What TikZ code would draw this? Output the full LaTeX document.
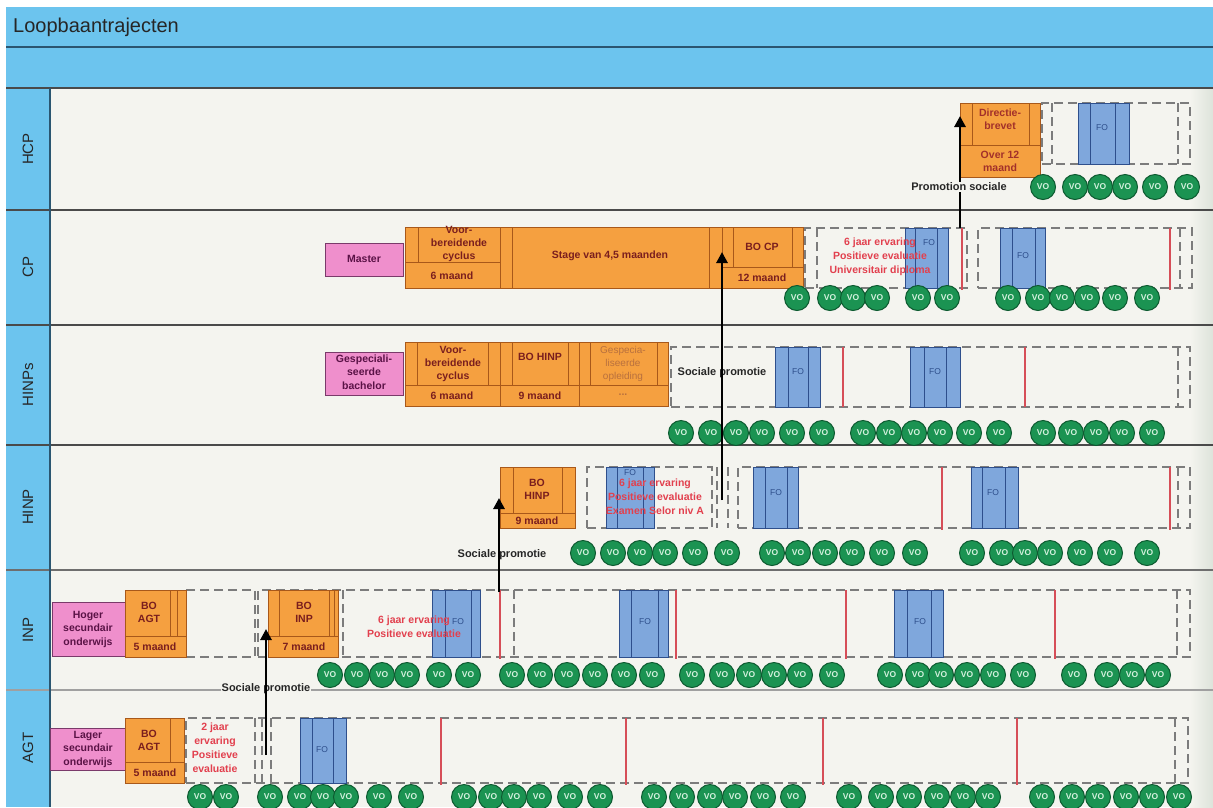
\documentclass[tikz,border=0pt]{standalone}
\usepackage{fontspec}
\setmainfont{Liberation Sans}
\usetikzlibrary{arrows.meta}
\definecolor{bandblue}{HTML}{6CC4EE}
\definecolor{bandline}{HTML}{2A5570}
\definecolor{lanebg}{HTML}{F4F4EF}
\definecolor{laneedge}{HTML}{DDE3DA}
\definecolor{laneline}{HTML}{4A4A4A}
\definecolor{lanelight}{HTML}{A0A0A0}
\definecolor{orfill}{HTML}{F5A040}
\definecolor{ordraw}{HTML}{A8581A}
\definecolor{ortext}{HTML}{7A1E1E}
\definecolor{orfade}{HTML}{B8703E}
\definecolor{dirtext}{HTML}{A2302A}
\definecolor{pkfill}{HTML}{EF8FCC}
\definecolor{pkdraw}{HTML}{7A3A6A}
\definecolor{pktext}{HTML}{5A1246}
\definecolor{fofill}{HTML}{7FA7DC}
\definecolor{fodraw}{HTML}{2E4F8C}
\definecolor{vofill}{HTML}{1B9352}
\definecolor{vodraw}{HTML}{0D5A30}
\definecolor{votext}{HTML}{D5F2DF}
\definecolor{redl}{HTML}{D64E58}
\definecolor{redt}{HTML}{E2404E}
\definecolor{dashc}{HTML}{7C7C7C}
\newcommand\mybox[6]{\node[#2, minimum width={#5-#3}, minimum height={#6-#4}] (#1) at ({(#3+#5)/2},{(#4+#6)/2}) {};}
\begin{document}
\begin{tikzpicture}[x=1pt,y=-1pt,
  obox/.style={draw=ordraw, fill=orfill, line width=0.8pt, inner sep=0pt, outer sep=0pt},
  pbox/.style={draw=pkdraw, fill=pkfill, line width=0.8pt, inner sep=0pt, outer sep=0pt},
  fobox/.style={draw=fodraw, fill=fofill, line width=0.8pt, inner sep=0pt, outer sep=0pt},
  dbox/.style={draw=dashc, dash pattern=on 9pt off 5pt, line width=1.1pt, inner sep=0pt, outer sep=0pt},
  odiv/.style={draw=ordraw, line width=0.8pt},
  fodiv/.style={draw=fodraw, line width=0.8pt},
  ddiv/.style={draw=dashc, dash pattern=on 9pt off 5pt, line width=1.1pt},
  redline/.style={draw=redl, line width=1.6pt},
  otext/.style={text=ortext, font=\bfseries\fontsize{10.5}{13}\selectfont, align=center, inner sep=0pt},
  ptext/.style={text=pktext, font=\bfseries\fontsize{10.5}{13.5}\selectfont, align=center, inner sep=0pt},
  rtext/.style={text=redt, font=\bfseries\fontsize{10.5}{14}\selectfont, align=center, inner sep=0pt},
  fotext/.style={text=fodraw, font=\fontsize{8.5}{9}\selectfont, inner sep=0pt},
  vo/.style={circle, draw=vodraw, fill=vofill, line width=1pt, minimum size=25pt, inner sep=0pt, text=votext, font=\bfseries\fontsize{8.5}{8.5}\selectfont},
  promolbl/.style={text=black!85, font=\bfseries\fontsize{11}{12}\selectfont, inner sep=1pt},
  promo/.style={line width=2.8pt, -{Triangle[length=11pt,width=11pt]}},
  lanelbl/.style={rotate=90, font=\fontsize{15}{15}\selectfont, text=black!85, inner sep=0pt},
]
\useasboundingbox (0,0) rectangle (1213,807);
% ---------- background ----------
\fill[white] (0,0) rectangle (1213,807);
\fill[lanebg] (50,88) rectangle (1213,807);
\shade[left color=lanebg, right color=laneedge] (1190,88) rectangle (1213,807);
\fill[bandblue] (6,7) rectangle (1213,88);
\fill[bandblue] (6,88) rectangle (50,807);
\node[anchor=west, font=\fontsize{20}{20}\selectfont, text=black!85, inner sep=0pt] (title) at (13,27) {Loopbaantrajecten};
\draw[bandline, line width=1.5pt] (6,47) -- (1213,47);
\draw[laneline, line width=1.5pt] (6,88) -- (1213,88);
\draw[laneline, line width=1.5pt] (6,210) -- (1213,210);
\draw[laneline, line width=1.5pt] (6,325) -- (1213,325);
\draw[laneline, line width=1.5pt] (6,445) -- (1213,445);
\draw[laneline!80, line width=1.5pt] (6,570) -- (1213,570);
\draw[lanelight, line width=2pt] (6,690) -- (1213,690);
\draw[bandline, line width=1.5pt] (50,88) -- (50,807);
\node[lanelbl] (lHCP) at (28,149) {HCP};
\node[lanelbl] (lCP) at (28,267) {CP};
\node[lanelbl] (lHINPs) at (28,385) {HINPs};
\node[lanelbl] (lHINP) at (28,507) {HINP};
\node[lanelbl] (lINP) at (28,630) {INP};
\node[lanelbl] (lAGT) at (28,748) {AGT};

% ---------- HCP ----------
\mybox{hcpd}{dbox}{1042}{103}{1190}{164}
\draw[ddiv] (1052,103) -- (1052,164);
\draw[ddiv] (1178,103) -- (1178,164);
\mybox{hcpfo}{fobox}{1078}{103}{1129}{164}
\draw[fodiv] (1090,103) -- (1090,164);
\draw[fodiv] (1115,103) -- (1115,164);
\node[fotext] (hcpfot) at (1102,128) {FO};
\mybox{dir}{obox}{960}{103}{1040}{177}
\draw[odiv] (960,145) -- (1040,145);
\draw[odiv] (972,103) -- (972,145);
\draw[odiv] (1029,103) -- (1029,145);
\node[otext, text=dirtext] (dirt1) at (1000,119) {Directie-\\brevet};
\node[otext, text=dirtext] (dirt2) at (1000,161) {Over 12\\maand};
\foreach \x [count=\i] in {1043,1075,1100,1125,1155,1187}
  \node[vo] (hcpvo\i) at (\x,187) {VO};

% ---------- CP ----------
\mybox{master}{pbox}{325}{243}{403}{276}
\node[ptext] (mastert) at (364,259) {Master};
\mybox{cpor}{obox}{405}{227}{803}{288}
\draw[odiv] (405,262) -- (500,262);
\draw[odiv] (418,227) -- (418,262);
\draw[odiv] (500,227) -- (500,288);
\draw[odiv] (512,227) -- (512,288);
\draw[odiv] (709,227) -- (709,288);
\draw[odiv] (722,227) -- (722,288);
\draw[odiv] (722,267) -- (803,267);
\draw[odiv] (733,227) -- (733,267);
\draw[odiv] (792,227) -- (792,267);
\node[otext] (cpt1) at (459,244) {Voor-\\bereidende\\cyclus};
\node[otext] (cpt2) at (452,276) {6 maand};
\node[otext] (cpt3) at (610,256) {Stage van 4,5 maanden};
\node[otext] (cpt4) at (762,247) {BO CP};
\node[otext] (cpt5) at (762,278) {12 maand};
\mybox{cpda}{dbox}{805}{228}{967}{288}
\draw[ddiv] (817,228) -- (817,288);
\mybox{cpfo1}{fobox}{905}{228}{948}{288}
\draw[fodiv] (915,228) -- (915,288);
\draw[fodiv] (937,228) -- (937,288);
\node[fotext] (cpfo1t) at (929,243) {FO};
\node[rtext] (cprt) at (880,257) {6 jaar ervaring\\Positieve evaluatie\\Universitair diploma};
\draw[redline] (962,228) -- (962,290);
\mybox{cpdb}{dbox}{978}{228}{1192}{288}
\draw[ddiv] (1180,228) -- (1180,288);
\mybox{cpfo2}{fobox}{1000}{228}{1045}{288}
\draw[fodiv] (1012,228) -- (1012,288);
\draw[fodiv] (1035,228) -- (1035,288);
\node[fotext] (cpfo2t) at (1023,256) {FO};
\draw[redline] (1170,228) -- (1170,290);
\foreach \x [count=\i] in {797,830,853,877,918,947,1008,1038,1062,1087,1115,1147}
  \node[vo] (cpvo\i) at (\x,298) {VO};

% ---------- HINPs ----------
\mybox{gbach}{pbox}{325}{352}{403}{395}
\node[ptext] (gbacht) at (364,372) {Gespeciali-\\seerde\\bachelor};
\mybox{hsor}{obox}{405}{342}{668}{406}
\draw[odiv] (405,385) -- (668,385);
\foreach \x in {500,579} \draw[odiv] (\x,342) -- (\x,406);
\foreach \x in {417,488,512,568,590,657} \draw[odiv] (\x,342) -- (\x,385);
\node[otext] (hst1) at (453,364) {Voor-\\bereidende\\cyclus};
\node[otext] (hst2) at (540,357) {BO HINP};
\node[otext, text=orfade, font=\fontsize{10}{13}\selectfont] (hst3) at (623,364) {Gespecia-\\liseerde\\opleiding};
\node[otext] (hst4) at (452,396) {6 maand};
\node[otext] (hst5) at (540,396) {9 maand};
\node[otext, text=orfade] (hst6) at (623,395) {...};
\mybox{hsd}{dbox}{671}{347}{1190}{407}
\draw[ddiv] (1178,347) -- (1178,407);
\mybox{hsfo1}{fobox}{775}{347}{820}{407}
\draw[fodiv] (788,347) -- (788,407);
\draw[fodiv] (808,347) -- (808,407);
\node[fotext] (hsfo1t) at (798,372) {FO};
\draw[redline] (843,347) -- (843,407);
\mybox{hsfo2}{fobox}{910}{347}{960}{407}
\draw[fodiv] (924,347) -- (924,407);
\draw[fodiv] (946,347) -- (946,407);
\node[fotext] (hsfo2t) at (935,372) {FO};
\draw[redline] (1025,347) -- (1025,407);
\node[promolbl] (hspromo) at (722,373) {Sociale promotie};
\foreach \x [count=\i] in {681,711,736,762,792,822,863,889,914,940,969,999,1043,1071,1096,1122,1152}
  \node[vo] (hsvo\i) at (\x,433) {VO};

% ---------- HINP ----------
\mybox{hnda}{dbox}{587}{467}{712}{528}
\draw[ddiv] (717,467) -- (717,528);
\draw[ddiv] (728,467) -- (728,528);
\mybox{hndb}{dbox}{738}{467}{1190}{528}
\draw[ddiv] (1178,467) -- (1178,528);
\mybox{bohinp}{obox}{500}{467}{575}{528}
\draw[odiv] (500,513) -- (575,513);
\draw[odiv] (513,467) -- (513,513);
\draw[odiv] (562,467) -- (562,513);
\node[otext] (bohinpt) at (537,489) {BO\\HINP};
\node[otext] (bohinpm) at (537,521) {9 maand};
\mybox{hnfo1}{fobox}{606}{467}{654}{528}
\draw[fodiv] (617,467) -- (617,528);
\draw[fodiv] (643,467) -- (643,528);
\node[fotext] (hnfo1t) at (630,473) {FO};
\node[rtext] (hnrt) at (655,497) {6 jaar ervaring\\Positieve evaluatie\\Examen Selor niv A};
\mybox{hnfo2}{fobox}{753}{467}{798}{528}
\draw[fodiv] (765,467) -- (765,528);
\draw[fodiv] (787,467) -- (787,528);
\node[fotext] (hnfo2t) at (776,493) {FO};
\draw[redline] (942,467) -- (942,530);
\mybox{hnfo3}{fobox}{971}{467}{1018}{528}
\draw[fodiv] (982,467) -- (982,528);
\draw[fodiv] (1005,467) -- (1005,528);
\node[fotext] (hnfo3t) at (993,493) {FO};
\draw[redline] (1170,467) -- (1170,530);
\node[promolbl] (hnpromo) at (502,555) {Sociale promotie};
\foreach \x [count=\i] in {583,613,640,665,695,727,772,798,825,852,882,915,972,1002,1025,1050,1080,1110,1147}
  \node[vo] (hnvo\i) at (\x,553) {VO};

% ---------- INP ----------
\mybox{inpd1}{dbox}{186}{590}{255}{657}
\mybox{inpd2}{dbox}{258}{590}{1190}{657}
\draw[ddiv] (343,590) -- (343,657);
\draw[ddiv] (514,590) -- (514,657);
\draw[ddiv] (1177,590) -- (1177,657);
\mybox{hso}{pbox}{52}{602}{125}{656}
\node[ptext] (hsot) at (88,629) {Hoger\\secundair\\onderwijs};
\mybox{boagta}{obox}{125}{590}{186}{657}
\draw[odiv] (125,636) -- (186,636);
\draw[odiv] (170,590) -- (170,636);
\draw[odiv] (177,590) -- (177,636);
\node[otext] (boagtat) at (149,612) {BO\\AGT};
\node[otext] (boagtam) at (155,647) {5 maand};
\mybox{boinp}{obox}{268}{590}{338}{657}
\draw[odiv] (268,636) -- (338,636);
\draw[odiv] (279,590) -- (279,636);
\draw[odiv] (329,590) -- (329,636);
\draw[odiv] (334,590) -- (334,636);
\node[otext] (boinpt) at (304,612) {BO\\INP};
\node[otext] (boinpm) at (304,647) {7 maand};
\mybox{info1}{fobox}{432}{590}{480}{657}
\draw[fodiv] (445,590) -- (445,657);
\draw[fodiv] (471,590) -- (471,657);
\node[fotext] (info1t) at (458,622) {FO};
\node[rtext] (inrt) at (414,627) {6 jaar ervaring\\Positieve evaluatie};
\draw[redline] (500,590) -- (500,659);
\mybox{info2}{fobox}{619}{590}{668}{657}
\draw[fodiv] (631,590) -- (631,657);
\draw[fodiv] (658,590) -- (658,657);
\node[fotext] (info2t) at (645,622) {FO};
\draw[redline] (676,590) -- (676,659);
\draw[redline] (846,590) -- (846,659);
\mybox{info3}{fobox}{894}{590}{943}{657}
\draw[fodiv] (907,590) -- (907,657);
\draw[fodiv] (931,590) -- (931,657);
\node[fotext] (info3t) at (920,622) {FO};
\draw[redline] (1055,590) -- (1055,659);
\foreach \x [count=\i] in {330,357,382,407,439,468,512,540,567,595,624,652,692,722,749,774,800,832,890,918,941,967,993,1023,1074,1107,1132,1158}
  \node[vo] (invo\i) at (\x,675) {VO};

% ---------- AGT ----------
\mybox{agtd}{dbox}{186}{718}{1188}{783}
\draw[ddiv] (255,718) -- (255,783);
\draw[ddiv] (262,718) -- (262,783);
\draw[ddiv] (271,718) -- (271,783);
\draw[ddiv] (1175,718) -- (1175,783);
\mybox{lso}{pbox}{50}{728}{125}{770}
\node[ptext] (lsot) at (88,749) {Lager\\secundair\\onderwijs};
\mybox{boagtb}{obox}{125}{718}{184}{783}
\draw[odiv] (125,762) -- (184,762);
\draw[odiv] (170,718) -- (170,762);
\node[otext] (boagtbt) at (149,740) {BO\\AGT};
\node[otext] (boagtbm) at (155,773) {5 maand};
\node[rtext] (agtrt) at (215,748) {2 jaar\\ervaring\\Positieve\\evaluatie};
\mybox{agfo}{fobox}{300}{718}{346}{783}
\draw[fodiv] (312,718) -- (312,783);
\draw[fodiv] (333,718) -- (333,783);
\node[fotext] (agfot) at (322,750) {FO};
\foreach \x in {441,626,823,1017} \draw[redline] (\x,718) -- (\x,785);
\foreach \x [count=\i] in {200,226,270,300,323,346,379,411,464,491,514,539,570,600,654,682,710,735,763,793,849,881,909,937,963,988,1042,1072,1098,1126,1152,1179}
  \node[vo] (agvo\i) at (\x,797) {VO};
\node[promolbl, fill=lanebg] (inpromo) at (266,689) {Sociale promotie};

% ---------- promotion arrows ----------
\coordinate (pa0) at (266,755);
\coordinate (pa1) at (266,629);
\draw[promo] (pa0) -- (pa1);
\coordinate (pb0) at (499,592);
\coordinate (pb1) at (499,498);
\draw[promo] (pb0) -- (pb1);
\coordinate (pc0) at (722,500);
\coordinate (pc1) at (722,252);
\draw[promo] (pc0) -- (pc1);
\coordinate (pd0) at (960,228);
\coordinate (pd1) at (960,116);
\draw[promo] (pd0) -- (pd1);
\node[promolbl, fill=lanebg] (hcppromo) at (959,187) {Promotion sociale};
\end{tikzpicture}
\end{document}
